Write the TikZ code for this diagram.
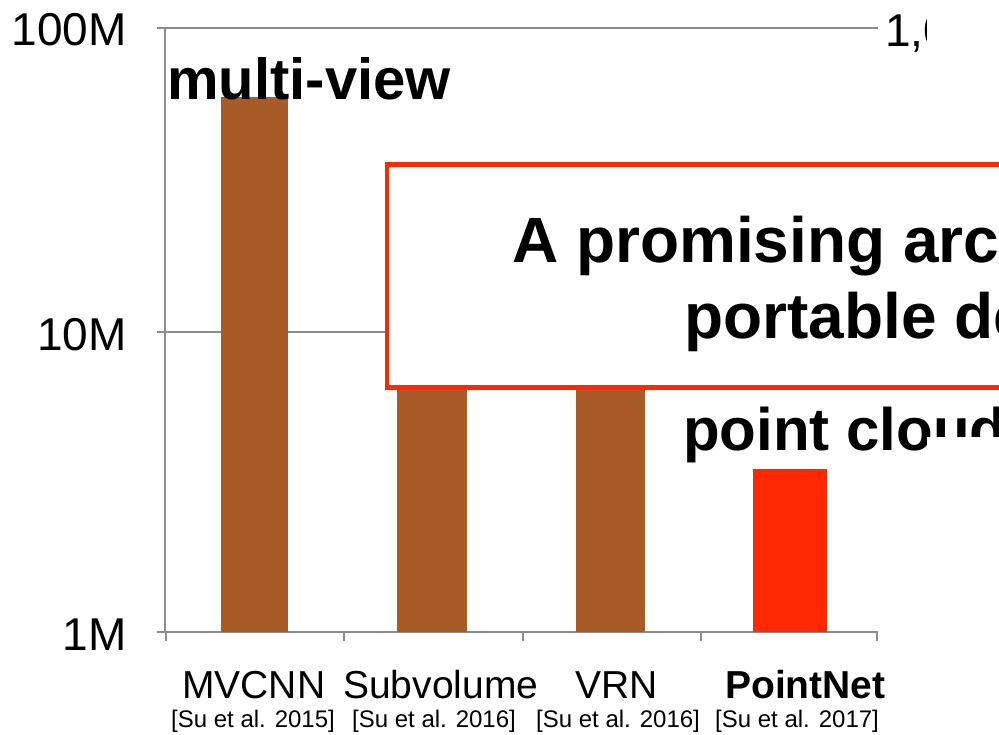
\documentclass[tikz,border=0pt]{standalone}
\usepackage{fontspec}
\setmainfont{Liberation Sans}
\definecolor{barbrown}{RGB}{169,91,39}
\definecolor{hired}{RGB}{255,40,0}
\definecolor{axisgray}{RGB}{140,140,140}
\newcommand{\fsz}[1]{\fontsize{#1}{#1}\selectfont}
\begin{document}
\begin{tikzpicture}[x=1pt,y=-1pt,
  lbl/.style={inner sep=0pt,anchor=base west},
  ylbl/.style={inner sep=0pt,anchor=base east,font=\fsz{46}},
  cat/.style={lbl,font=\fsz{39}},
  ref/.style={lbl,font=\fsz{24}},
  axisline/.style={draw=axisgray,line width=2.2pt},
  gridline/.style={draw=axisgray,line width=2pt},
  bar/.style={fill=barbrown},
  callout/.style={draw=hired,line width=4.5pt,fill=white}]
\useasboundingbox (0,0) rectangle (999,734);
\begin{scope}
\clip (0,0) rectangle (999,734);
% grid lines at 100M and 10M
\draw[gridline] (157,28) -- (878,28);
\draw[gridline] (157,332) -- (878,332);
% axes and ticks
\draw[axisline] (165,28) -- (165,632) -- (878,632);
\foreach \yy in {28,332,632} \draw[axisline] (157,\yy) -- (165,\yy);
\foreach \xx in {166,344,523,701,877} \draw[axisline] (\xx,632) -- (\xx,641);
% y labels
\node[ylbl] (y100) at (127,45) {100M};
\node[ylbl] (y10) at (127,350) {10M};
\node[ylbl] (y1) at (127,650) {1M};
% right-hand axis label, partly hidden
\begin{scope}
\clip (850,0) rectangle (926,80);
\node[lbl,font=\fsz{46}] (r1) at (885,46) {1,0};
\end{scope}
% bars
\fill[bar] (221,97) rectangle (288,632);
\fill[bar] (397,300) rectangle (467,632);
\fill[bar] (576,300) rectangle (645,632);
\fill[hired] (753,469) rectangle (827,632);
% bar annotations
\node[lbl,font=\fsz{58}\bfseries] (mv) at (167,99) {multi-view};
\node[lbl,font=\fsz{60}\bfseries] (pc) at (683,450) {point cloud};
\fill[white] (927,437) rectangle (999,468);
% callout box
\draw[callout] (387,164.5) rectangle (1020,387.5);
\node[lbl,font=\fsz{64}\bfseries] (t1) at (512,262) {A promising arc};
\node[lbl,font=\fsz{64}\bfseries] (t2) at (684,338) {portable de};
% category labels
\node[cat] (c1) at (182,698) {MVCNN};
\node[cat] (c2) at (343,698) {Subvolume};
\node[cat] (c3) at (575,698) {VRN};
\node[cat,font=\fsz{39}\bfseries] (c4) at (725,698) {PointNet};
\node[ref] (r1a) at (171,727) {[Su et al. 2015]};
\node[ref] (r2a) at (352,727) {[Su et al. 2016]};
\node[ref] (r3a) at (536,727) {[Su et al. 2016]};
\node[ref] (r4a) at (715,727) {[Su et al. 2017]};
\end{scope}
\end{tikzpicture}
\end{document}
